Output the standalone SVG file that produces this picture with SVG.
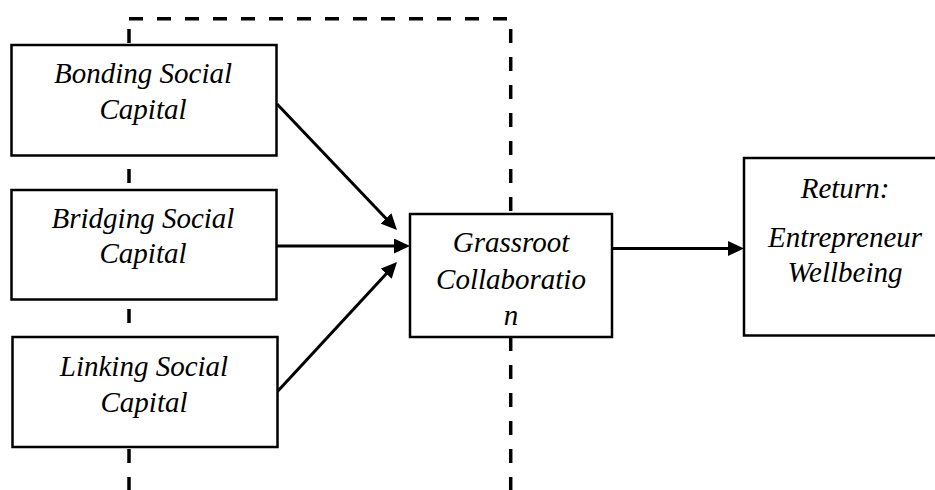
<svg xmlns="http://www.w3.org/2000/svg" width="935" height="490" viewBox="0 0 935 490">
<style>
.box{fill:#fff;stroke:#000;stroke-width:2.5}
.lbl{font-family:"Liberation Serif","Times New Roman",serif;font-style:italic;font-size:29px;fill:#000;text-anchor:middle}
.dash{fill:none;stroke:#000;stroke-width:3.5;stroke-dasharray:14 14}
.arr{fill:none;stroke:#000;stroke-width:3}
</style>
<defs>
<marker id="ah" markerUnits="userSpaceOnUse" markerWidth="16" markerHeight="15" refX="8" refY="7.5" orient="auto" viewBox="0 0 16 15">
<path d="M0,0 L16,7.5 L0,15 z" fill="#000"/>
</marker>
</defs>
<g id="boundary">
<path class="dash" d="M129,18.7 H512"/>
<path class="dash" style="stroke-dashoffset:17.7" d="M129,18.7 V492"/>
<path class="dash" style="stroke-dashoffset:17.7" d="M510.7,18.7 V492"/>
</g>
<g id="connectors">
<line class="arr" x1="277" y1="104" x2="391.5" y2="224.2" marker-end="url(#ah)"/>
<line class="arr" x1="277" y1="246" x2="402" y2="246" marker-end="url(#ah)"/>
<line class="arr" x1="277" y1="392" x2="391.6" y2="267.9" marker-end="url(#ah)"/>
<line class="arr" x1="612" y1="248.5" x2="736" y2="248.5" marker-end="url(#ah)"/>
</g>
<g id="bonding">
<rect class="box" x="11.5" y="45" width="265" height="110.5"/>
<text class="lbl" x="143" y="83">Bonding Social</text>
<text class="lbl" x="143" y="119">Capital</text>
</g>
<g id="bridging">
<rect class="box" x="11.5" y="190" width="265" height="109.5"/>
<text class="lbl" x="143" y="228">Bridging Social</text>
<text class="lbl" x="143" y="263">Capital</text>
</g>
<g id="linking">
<rect class="box" x="12.5" y="337" width="265" height="110"/>
<text class="lbl" x="144" y="375.5">Linking Social</text>
<text class="lbl" x="144" y="411.5">Capital</text>
</g>
<g id="grassroot">
<rect class="box" x="410" y="214" width="202" height="123"/>
<text class="lbl" x="511" y="251.5">Grassroot</text>
<text class="lbl" x="511" y="289">Collaboratio</text>
<text class="lbl" x="511" y="325">n</text>
</g>
<g id="return">
<rect class="box" x="744" y="158" width="202" height="177.5"/>
<text class="lbl" x="845" y="197.5">Return:</text>
<text class="lbl" x="845" y="246.5">Entrepreneur</text>
<text class="lbl" x="845" y="281.5">Wellbeing</text>
</g>
</svg>
